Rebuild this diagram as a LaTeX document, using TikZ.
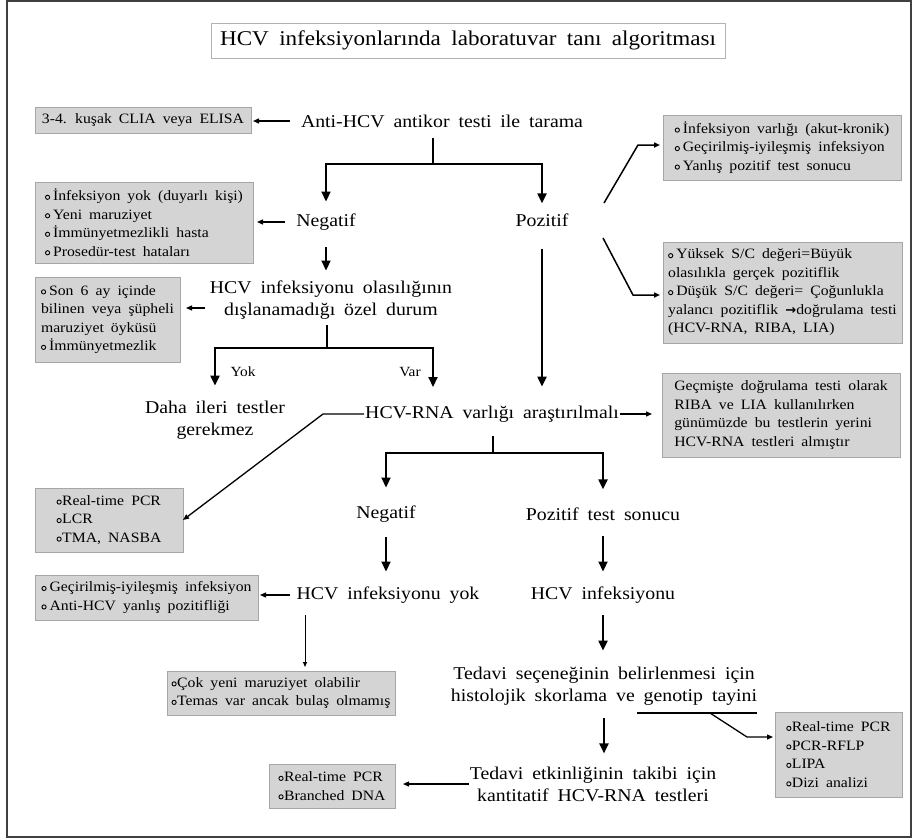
\documentclass[tikz,border=0pt]{standalone}
\usepackage{fontspec}
\setmainfont{Liberation Serif}[FakeStretch=1.1,WordSpace=1.8]
\newfontfamily\dejavu{DejaVu Sans}
\usetikzlibrary{arrows.meta,shadows}
\newcommand\bl{\tikz[baseline=-3.3pt]\draw[line width=0.9pt] (0,0) circle (2.1pt);\hspace{3pt}}
\newcommand\blt{\tikz[baseline=-3.3pt]\draw[line width=0.9pt] (0,0) circle (2.1pt);\hspace{0.5pt}}
\begin{document}
\begin{tikzpicture}[x=1pt,y=-1pt,
  gbox/.style={draw=gray!70, line width=0.6pt, fill=gray!34,
    drop shadow={shadow xshift=1.3pt, shadow yshift=-1.3pt, fill=gray!60, opacity=1},
    font=\fontsize{14.3}{18.5}\selectfont, align=left, inner sep=0pt, outer sep=0pt},
  mtext/.style={font=\fontsize{18}{22}\selectfont, align=center, inner sep=1pt},
  stext/.style={font=\fontsize{14}{16}\selectfont, inner sep=0pt},
  thk/.style={line width=2pt, -{Triangle[width=9pt,length=10pt]}},
  thkl/.style={line width=2pt},
  thn/.style={line width=1.3pt, -{Triangle[width=5pt,length=6pt]}},
  hair/.style={line width=0.9pt, -{Triangle[width=4pt,length=5pt]}}
]
\useasboundingbox (0,0) rectangle (913,839);
\draw[line width=1.2pt, black!75] (7,1) rectangle (911,837);

% title
\node[draw=gray!60, fill=white, minimum width=514pt, minimum height=35pt,
  font=\fontsize{21}{25}\selectfont, inner sep=0pt] (title) at (468,40.5)
  {HCV infeksiyonlarında laboratuvar tanı algoritması};

% text nodes
\node[mtext] (anti) at (442,121) {Anti-HCV antikor testi ile tarama};
\node[mtext] (neg1) at (326,222) {Negatif};
\node[mtext] (poz1) at (542,220) {Pozitif};
\node[mtext] (olas) at (331,300) {HCV infeksiyonu olasılığının\\dışlanamadığı özel durum};
\node[stext] (yok) at (243,372) {Yok};
\node[stext] (var) at (410,372) {Var};
\node[mtext] (daha) at (215,420) {Daha ileri testler\\gerekmez};
\node[mtext] (hcvrna) at (492,414) {HCV-RNA varlığı araştırılmalı};
\node[mtext] (neg2) at (386,514) {Negatif};
\node[mtext] (pos2) at (603,514) {Pozitif test sonucu};
\node[mtext] (yokn) at (388,595) {HCV infeksiyonu yok};
\node[mtext] (infek) at (603,595) {HCV infeksiyonu};
\node[mtext] (ted1) at (604,686) {Tedavi seçeneğinin belirlenmesi için\\histolojik skorlama ve genotip tayini};
\node[mtext] (ted2) at (593,784) {Tedavi etkinliğinin takibi için\\kantitatif HCV-RNA testleri};

% grey boxes
\node[gbox, minimum width=216pt, minimum height=26pt] (b1) at (143,120)
  {3-4. kuşak CLIA veya ELISA};
\node[gbox, minimum width=218pt, minimum height=81pt] (b2) at (144,222.5)
  {\bl İnfeksiyon yok (duyarlı kişi)\\\bl Yeni maruziyet\\\bl İmmünyetmezlikli hasta\\\bl Prosedür-test hataları};
\node[gbox, minimum width=145pt, minimum height=85pt] (b3) at (107.5,319.5)
  {\bl Son 6 ay içinde\\bilinen veya şüpheli\\maruziyet öyküsü\\\bl İmmünyetmezlik};
\node[gbox, minimum width=238pt, minimum height=65pt] (r1) at (782,147.5)
  {\bl İnfeksiyon varlığı (akut-kronik)\\\bl Geçirilmiş-iyileşmiş infeksiyon\\\bl Yanlış pozitif test sonucu};
\node[gbox, minimum width=239pt, minimum height=101pt] (r2) at (782.5,292.5)
  {\bl Yüksek S/C değeri=Büyük\\olasılıkla gerçek pozitiflik\\\bl Düşük S/C değeri= Çoğunlukla\\yalancı pozitiflik {\dejavu\bfseries\fontsize{13}{13}\selectfont →}doğrulama testi\\(HCV-RNA, RIBA, LIA)};
\node[gbox, minimum width=238pt, minimum height=84pt] (b5) at (781,415)
  {Geçmişte doğrulama testi olarak\\RIBA ve LIA kullanılırken\\günümüzde bu testlerin yerini\\HCV-RNA testleri almıştır};
\node[gbox, minimum width=148pt, minimum height=64pt] (b4) at (109,520)
  {\blt Real-time PCR\\\blt LCR\\\blt TMA, NASBA};
\node[gbox, minimum width=223pt, minimum height=45pt] (b6) at (146.5,597.5)
  {\bl Geçirilmiş-iyileşmiş infeksiyon\\\bl Anti-HCV yanlış pozitifliği};
\node[gbox, minimum width=228pt, minimum height=44pt] (b7) at (281,693)
  {\blt Çok yeni maruziyet olabilir\\\blt Temas var ancak bulaş olmamış};
\node[gbox, minimum width=127pt, minimum height=85pt] (b8) at (838.5,754.5)
  {\blt Real-time PCR\\\blt PCR-RFLP\\\blt LIPA\\\blt Dizi analizi};
\node[gbox, minimum width=126pt, minimum height=44pt] (b9) at (332,786)
  {\blt Real-time PCR\\\blt Branched DNA};

% connectors
\draw[thn, shorten <=10pt, shorten >=2pt] (anti.west) -- (anti.west -| b1.east);
\coordinate (t1) at (433,138);
\coordinate (t2) at (433,164);
\draw[thkl] (t1) -- (t2);
\draw[thk, shorten >=11pt] (t2) -| (neg1.north);
\draw[thk, shorten >=9pt] (t2) -| (poz1.north);

\draw[thn, shorten <=10pt, shorten >=4pt] (neg1.west) -- (neg1.west -| b2.east);
\draw[thk, shorten <=16pt, shorten >=9pt] (neg1.south) -- (neg1.south |- olas.north);

\coordinate (a3) at (205,308);
\draw[thn, shorten >=6pt] (a3) -- (a3 -| b3.east);

\coordinate (o1) at (327,325);
\coordinate (o2) at (327,348);
\coordinate (varc) at (433,387);
\draw[thkl] (o1) -- (o2);
\draw[thk, shorten >=14pt] (o2) -| (daha.north);
\draw[thk] (o2) -| (varc);

\coordinate (h1) at (323,414);
\draw[thn] (hcvrna.west) -- (h1) -- (b4.east);
\draw[thn, shorten >=10pt] (hcvrna.east) -- (hcvrna.east -| b5.west);

\draw[thk, shorten <=21pt, shorten >=18pt] (poz1.south) -- (poz1.south |- hcvrna.north);

\coordinate (p1) at (604,203);
\coordinate (p2) at (638,145);
\draw[thn, line width=1.5pt, shorten >=3pt] (p1) -- (p2) -- (p2 -| r1.west);
\coordinate (p3) at (603,238);
\coordinate (p4) at (633,295);
\draw[thn, line width=1.5pt, shorten >=3pt] (p3) -- (p4) -- (p4 -| r2.west);

\coordinate (q1) at (493,436);
\coordinate (q2) at (493,453);
\draw[thkl] (q1) -- (q2);
\draw[thk, shorten >=17pt] (q2) -| (neg2.north);
\draw[thk, shorten >=17pt] (q2) -| (pos2.north);

\draw[thk, shorten <=14pt, shorten >=14pt] (neg2.south) -- (neg2.south |- yokn.north);
\draw[thk, shorten <=14pt, shorten >=14pt] (pos2.south) -- (pos2.south |- infek.north);

\draw[thn, shorten <=5pt, shorten >=2pt] (yokn.west) -- (yokn.west -| b6.east);
\coordinate (y1) at (305,615);
\draw[hair, shorten >=4pt] (y1) -- (y1 |- b7.north);

\draw[thk, shorten <=11pt, shorten >=15pt] (infek.south) -- (infek.south |- ted1.north);
\draw[thk, shorten <=12pt, shorten >=12pt] (ted1.south) -- (ted1.south |- ted2.north);

\coordinate (u1) at (637,713);
\coordinate (u2) at (757,713);
\coordinate (u3) at (710,713);
\coordinate (u4) at (747,737);
\draw[line width=1.5pt] (u1) -- (u2);
\draw[thn, shorten >=2pt] (u3) -- (u4) -- (u4 -| b8.west);

\draw[thn, shorten >=8pt] (ted2.west) -- (ted2.west -| b9.east);
\end{tikzpicture}
\end{document}
